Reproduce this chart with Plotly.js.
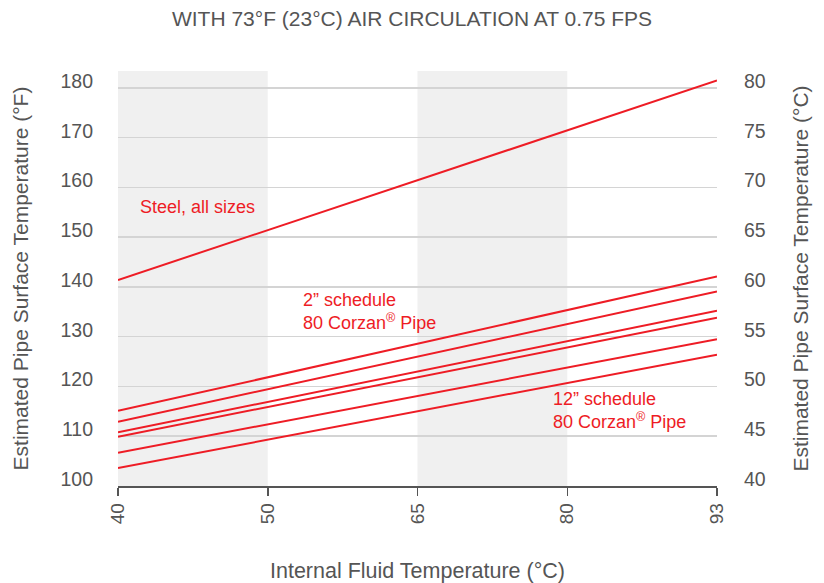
<!DOCTYPE html>
<html>
<head>
<meta charset="utf-8">
<script src="https://cdn.plot.ly/plotly-3.0.1.min.js"></script>
<style>html,body{margin:0;padding:0;background:#fff;}#chart{width:824px;height:583px;}</style>
</head>
<body>
<div id="chart"></div>
<script>
// Internal fluid temperature categories (°C)
const categories = ['40', '50', '65', '80', '93'];
// Endpoints of each straight line (x at 40 and 93 °C)
const lineX = ['40', '93'];
// Estimated pipe surface temperature (°F)
const steelAllSizes = [141.4, 181.5];
const corzan2in = [115.1, 142.1];
const corzanB = [112.9, 139.1];
const corzanC = [110.8, 135.2];
const corzanD = [109.9, 133.8];
const corzanE = [106.7, 129.5];
const corzan12in = [103.6, 126.4];
const leftTicks = [100, 110, 120, 130, 140, 150, 160, 170, 180];
const rightTicks = [40, 45, 50, 55, 60, 65, 70, 75, 80];
// shaded bands (category index ranges)
const bands = [[0, 1], [2, 3]];

const RED = '#ee1c25';
const GRAY = '#555555';
const FONT = 'Liberation Sans, Arial, sans-serif';

const series = [steelAllSizes, corzan2in, corzanB, corzanC, corzanD, corzanE, corzan12in];
const traces = series.map(v => ({
  x: lineX, y: v, type: 'scatter', mode: 'lines',
  line: {color: RED, width: 2}, hoverinfo: 'skip', showlegend: false
}));

const shapes = bands.map(b => ({
  type: 'rect', xref: 'x', yref: 'paper', x0: b[0], x1: b[1], y0: 0, y1: 1,
  fillcolor: '#f0f0f0', line: {width: 0}, layer: 'below'
}));

const layout = {
  width: 824, height: 583,
  margin: {l: 118, r: 107, t: 71, b: 97},
  paper_bgcolor: '#fff', plot_bgcolor: 'rgba(0,0,0,0)',
  font: {family: FONT, color: GRAY},
  title: {text: 'WITH 73°F (23°C) AIR CIRCULATION AT 0.75 FPS', font: {size: 21, color: GRAY, family: FONT},
          x: 0.5, xanchor: 'center', y: 0.968, yanchor: 'middle'},
  xaxis: {
    type: 'category', categoryorder: 'array', categoryarray: categories,
    tickvals: categories, ticktext: categories,
    range: [0, 4], showgrid: false, zeroline: false,
    showline: true, linecolor: GRAY, linewidth: 1.5,
    ticks: 'outside', ticklen: 8, tickwidth: 1.5, tickcolor: GRAY,
    tickangle: -90, tickfont: {size: 19, color: GRAY},
    title: {text: 'Internal Fluid Temperature (°C)', font: {size: 21.5, color: GRAY}, standoff: 40}
  },
  yaxis: {
    range: [100, 183.4], tickvals: leftTicks, ticks: '',
    showgrid: true, gridcolor: '#d4d4d4', gridwidth: 1.5, zeroline: false, showline: false,
    tickfont: {size: 19.5, color: GRAY}, ticklabelshift: -7, ticklabelstandoff: 24,
    title: {text: 'Estimated Pipe Surface Temperature (°F)', font: {size: 21, color: GRAY}, standoff: 26}
  },
  yaxis2: {
    overlaying: 'y', side: 'right', range: [40, 81.7], tickvals: rightTicks, ticks: '',
    showgrid: false, zeroline: false, showline: false,
    tickfont: {size: 19.5, color: GRAY}, ticklabelshift: -7, ticklabelstandoff: 26,
    title: {text: 'Estimated Pipe Surface Temperature (°C)', font: {size: 21, color: GRAY}, standoff: 28}
  },
  shapes: shapes,
  annotations: [
    {xref: 'x', yref: 'y', x: 0.134, y: 156.1, xanchor: 'left', yanchor: 'middle', showarrow: false,
     text: 'Steel, all sizes', font: {size: 18, color: RED}, align: 'left'},
    {xref: 'x', yref: 'y', x: 1.222, y: 135.0, xanchor: 'left', yanchor: 'middle', showarrow: false,
     text: '2” schedule<br>80 Corzan<sup>®</sup> Pipe', font: {size: 18, color: RED}, align: 'left'},
    {xref: 'x', yref: 'y', x: 2.89, y: 115.1, xanchor: 'left', yanchor: 'middle', showarrow: false,
     text: '12” schedule<br>80 Corzan<sup>®</sup> Pipe', font: {size: 18, color: RED}, align: 'left'}
  ]
};

// invisible helper so the right axis is rendered
traces.push({x: [], y: [], yaxis: 'y2', type: 'scatter', showlegend: false, hoverinfo: 'skip'});

Plotly.newPlot('chart', traces, layout, {displayModeBar: false, staticPlot: true});
</script>
</body>
</html>
